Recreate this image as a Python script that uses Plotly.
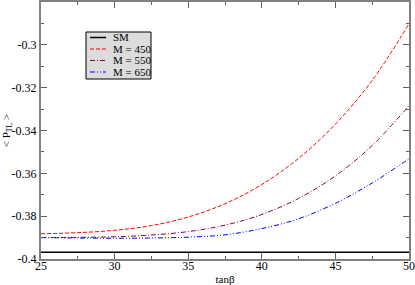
import plotly.graph_objects as go

tanb = [25, 27.5, 30, 32.5, 35, 37.5, 40, 42.5, 45, 47.5, 50]
sm = [-0.3969] * len(tanb)
m450 = [-0.3882, -0.3877, -0.3866, -0.3844, -0.3804, -0.3742, -0.3652, -0.3530, -0.3370, -0.3166, -0.2902]
m550 = [-0.3900, -0.3899, -0.3896, -0.3888, -0.3872, -0.3842, -0.3792, -0.3717, -0.3612, -0.3470, -0.3284]
m650 = [-0.3900, -0.3902, -0.3903, -0.3902, -0.3898, -0.3887, -0.3858, -0.3812, -0.3740, -0.3645, -0.3532]
names = ["SM", "M = 450", "M = 550", "M = 650"]

ytickvals = [-0.4, -0.38, -0.36, -0.34, -0.32, -0.3]
yticktext = ["-0.4", "-0.38", "-0.36", "-0.34", "-0.32", "-0.3"]
xtickvals = [25, 30, 35, 40, 45, 50]

font = "Liberation Serif"
styles = [
    dict(color="black", width=1.5, dash="solid"),
    dict(color="#ff0000", width=1, dash="4px,2px"),
    dict(color="#800050", width=1, dash="5px,2px,1px,2px"),
    dict(color="#0000ff", width=1, dash="5px,2px,1px,2px,1px,2px"),
]

fig = go.Figure()
for name, ys, st in zip(names, [sm, m450, m550, m650], styles):
    fig.add_trace(go.Scatter(x=tanb, y=ys, mode="lines", name=name, line_shape="spline",
                             line=st, showlegend=False, hoverinfo="skip"))

# manual compact legend (paper coordinates)
L, R, T, B = 41, 409, 2, 259
px = lambda v: (v - L) / (R - L)
py = lambda v: (B - v) / (B - T)
fig.add_shape(type="rect", xref="paper", yref="paper",
              x0=px(86), x1=px(151), y0=py(79), y1=py(32),
              fillcolor="#dcdcdc", line=dict(color="black", width=1), layer="above")
rows = [37.5, 49, 60.5, 72]
for name, st, r in zip(names, styles, rows):
    fig.add_shape(type="line", xref="paper", yref="paper",
                  x0=px(90), x1=px(106), y0=py(r), y1=py(r), line=st, layer="above")
    fig.add_annotation(xref="paper", yref="paper", x=px(111), y=py(r), text=name,
                       showarrow=False, xanchor="left", yanchor="middle",
                       font=dict(family=font, size=11, color="black"))

fig.update_layout(
    width=415, height=285,
    margin=dict(l=41, r=6, t=2, b=26),
    paper_bgcolor="white", plot_bgcolor="white",
    font=dict(family=font, size=12, color="black"),
    showlegend=False,
    xaxis=dict(range=[25, 50], tickvals=xtickvals, ticks="inside", ticklen=6,
               tickcolor="#606060", showline=True, linecolor="#808080", linewidth=2,
               mirror="ticks", showgrid=False, zeroline=False, ticklabelstandoff=-5,
               automargin=False,
               minor=dict(dtick=2.5, ticks="inside", ticklen=3, tickcolor="#606060", showgrid=False),
               title=dict(text="tanβ", font=dict(family=font, size=11), standoff=5),
               tickfont=dict(family=font, size=12)),
    yaxis=dict(range=[-0.4, -0.28], tickvals=ytickvals, ticktext=yticktext, ticks="inside", ticklen=6,
               tickcolor="#606060", showline=True, linecolor="#808080", linewidth=2,
               mirror="ticks", showgrid=False, zeroline=False, automargin=False,
               minor=dict(dtick=0.01, ticks="inside", ticklen=3, tickcolor="#606060", showgrid=False),
               title=dict(text="&lt; P<sub>TL</sub> &gt;", font=dict(family=font, size=11), standoff=0),
               tickfont=dict(family=font, size=12)),
)
fig.write_html("out.html", config={"displayModeBar": False},
               post_script="document.body.style.margin='0';document.body.style.overflow='hidden';")
